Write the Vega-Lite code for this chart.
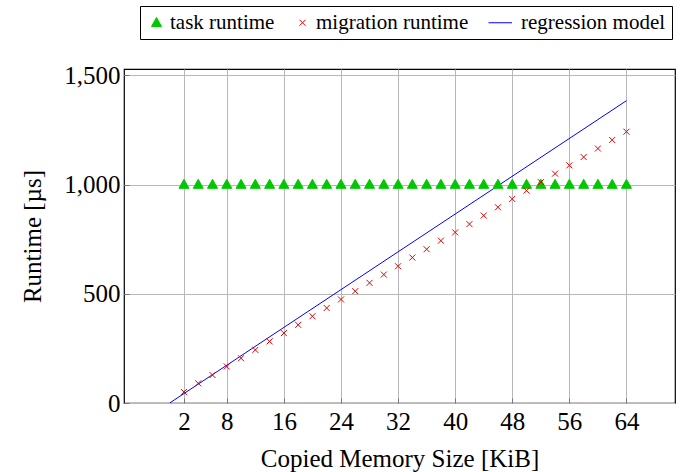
{
  "$schema": "https://vega.github.io/schema/vega-lite/v6.json",
  "autosize": {"type": "none"},
  "width": 551,
  "height": 334,
  "padding": {"left": 124, "top": 69, "right": 10, "bottom": 69},
  "background": "white",
  "config": {
    "font": "Liberation Serif",
    "view": {"stroke": "black", "strokeWidth": 1.2},
    "axis": {
      "labelFont": "Liberation Serif",
      "titleFont": "Liberation Serif",
      "labelFontSize": 25,
      "titleFontSize": 25,
      "titleFontWeight": "normal",
      "labelColor": "black",
      "titleColor": "black",
      "gridColor": "#b8b8b8",
      "gridWidth": 1,
      "gridOpacity": 1,
      "domain": false,
      "tickSize": -5,
      "tickColor": "#777777"
    },
    "legend": {
      "title": null,
      "orient": "none",
      "direction": "horizontal",
      "legendX": 16,
      "legendY": -63,
      "strokeColor": "black",
      "fillColor": "white",
      "padding": 6,
      "labelFont": "Liberation Serif",
      "labelFontSize": 21,
      "labelColor": "black",
      "labelOffset": 3,
      "columnPadding": 17,
      "symbolStrokeWidth": 1,
      "symbolSize": 100,
      "labelLimit": 400
    }
  },
  "datasets": {
    "points": [
      {"series": "task runtime", "size": 2, "runtime": 1000},
      {"series": "task runtime", "size": 4, "runtime": 1000},
      {"series": "task runtime", "size": 6, "runtime": 1000},
      {"series": "task runtime", "size": 8, "runtime": 1000},
      {"series": "task runtime", "size": 10, "runtime": 1000},
      {"series": "task runtime", "size": 12, "runtime": 1000},
      {"series": "task runtime", "size": 14, "runtime": 1000},
      {"series": "task runtime", "size": 16, "runtime": 1000},
      {"series": "task runtime", "size": 18, "runtime": 1000},
      {"series": "task runtime", "size": 20, "runtime": 1000},
      {"series": "task runtime", "size": 22, "runtime": 1000},
      {"series": "task runtime", "size": 24, "runtime": 1000},
      {"series": "task runtime", "size": 26, "runtime": 1000},
      {"series": "task runtime", "size": 28, "runtime": 1000},
      {"series": "task runtime", "size": 30, "runtime": 1000},
      {"series": "task runtime", "size": 32, "runtime": 1000},
      {"series": "task runtime", "size": 34, "runtime": 1000},
      {"series": "task runtime", "size": 36, "runtime": 1000},
      {"series": "task runtime", "size": 38, "runtime": 1000},
      {"series": "task runtime", "size": 40, "runtime": 1000},
      {"series": "task runtime", "size": 42, "runtime": 1000},
      {"series": "task runtime", "size": 44, "runtime": 1000},
      {"series": "task runtime", "size": 46, "runtime": 1000},
      {"series": "task runtime", "size": 48, "runtime": 1000},
      {"series": "task runtime", "size": 50, "runtime": 1000},
      {"series": "task runtime", "size": 52, "runtime": 1000},
      {"series": "task runtime", "size": 54, "runtime": 1000},
      {"series": "task runtime", "size": 56, "runtime": 1000},
      {"series": "task runtime", "size": 58, "runtime": 1000},
      {"series": "task runtime", "size": 60, "runtime": 1000},
      {"series": "task runtime", "size": 62, "runtime": 1000},
      {"series": "task runtime", "size": 64, "runtime": 1000},
      {"series": "migration runtime", "size": 2, "runtime": 50},
      {"series": "migration runtime", "size": 4, "runtime": 90},
      {"series": "migration runtime", "size": 6, "runtime": 128},
      {"series": "migration runtime", "size": 8, "runtime": 167},
      {"series": "migration runtime", "size": 10, "runtime": 205},
      {"series": "migration runtime", "size": 12, "runtime": 243},
      {"series": "migration runtime", "size": 14, "runtime": 282},
      {"series": "migration runtime", "size": 16, "runtime": 320},
      {"series": "migration runtime", "size": 18, "runtime": 358},
      {"series": "migration runtime", "size": 20, "runtime": 397},
      {"series": "migration runtime", "size": 22, "runtime": 435},
      {"series": "migration runtime", "size": 24, "runtime": 474},
      {"series": "migration runtime", "size": 26, "runtime": 512},
      {"series": "migration runtime", "size": 28, "runtime": 550},
      {"series": "migration runtime", "size": 30, "runtime": 588},
      {"series": "migration runtime", "size": 32, "runtime": 626},
      {"series": "migration runtime", "size": 34, "runtime": 666},
      {"series": "migration runtime", "size": 36, "runtime": 704},
      {"series": "migration runtime", "size": 38, "runtime": 743},
      {"series": "migration runtime", "size": 40, "runtime": 781},
      {"series": "migration runtime", "size": 42, "runtime": 819},
      {"series": "migration runtime", "size": 44, "runtime": 858},
      {"series": "migration runtime", "size": 46, "runtime": 896},
      {"series": "migration runtime", "size": 48, "runtime": 934},
      {"series": "migration runtime", "size": 50, "runtime": 972},
      {"series": "migration runtime", "size": 52, "runtime": 1011},
      {"series": "migration runtime", "size": 54, "runtime": 1050},
      {"series": "migration runtime", "size": 56, "runtime": 1088},
      {"series": "migration runtime", "size": 58, "runtime": 1126},
      {"series": "migration runtime", "size": 60, "runtime": 1165},
      {"series": "migration runtime", "size": 62, "runtime": 1204},
      {"series": "migration runtime", "size": 64, "runtime": 1242}
    ],
    "regression": [
      {"series": "regression model", "size": 0, "runtime": 0},
      {"series": "regression model", "size": 64, "runtime": 1384}
    ]
  },
  "layer": [
    {
      "data": {"name": "regression"},
      "mark": {"type": "line", "color": "#0000ff", "strokeWidth": 1, "clip": true},
      "encoding": {
        "x": {"field": "size", "type": "quantitative"},
        "y": {"field": "runtime", "type": "quantitative"}
      }
    },
    {
      "data": {"name": "points"},
      "mark": {"type": "point", "filled": true, "opacity": 1, "strokeWidth": 1, "size": 100, "clip": true},
      "encoding": {
        "x": {
          "field": "size",
          "type": "quantitative",
          "scale": {"domain": [-6.4, 70.8], "nice": false, "zero": false},
          "axis": {
            "values": [2, 8, 16, 24, 32, 40, 48, 56, 64],
            "title": "Copied Memory Size [KiB]",
            "labelPadding": 11,
            "titlePadding": 12
          }
        },
        "y": {
          "field": "runtime",
          "type": "quantitative",
          "scale": {"domain": [0, 1529], "nice": false, "zero": false},
          "axis": {
            "values": [0, 500, 1000, 1500],
            "labelExpr": "format(datum.value, ',.0f')",
            "title": "Runtime [µs]",
            "labelPadding": 9,
            "titlePadding": 18
          }
        },
        "color": {
          "field": "series",
          "type": "nominal",
          "scale": {
            "domain": ["task runtime", "migration runtime", "regression model"],
            "range": ["#00c800", "#e00000", "#0000ff"]
          }
        },
        "stroke": {
          "field": "series",
          "type": "nominal",
          "scale": {
            "domain": ["task runtime", "migration runtime", "regression model"],
            "range": ["#00c800", "#e00000", "#0000ff"]
          }
        },
        "shape": {
          "field": "series",
          "type": "nominal",
          "scale": {
            "domain": ["task runtime", "migration runtime", "regression model"],
            "range": ["M0,-1.05L1,0.75L-1,0.75Z", "M-0.6,-0.6L0.6,0.6M-0.6,0.6L0.6,-0.6", "M-3.8,0L0.9,0"]
          }
        }
      }
    }
  ]
}
